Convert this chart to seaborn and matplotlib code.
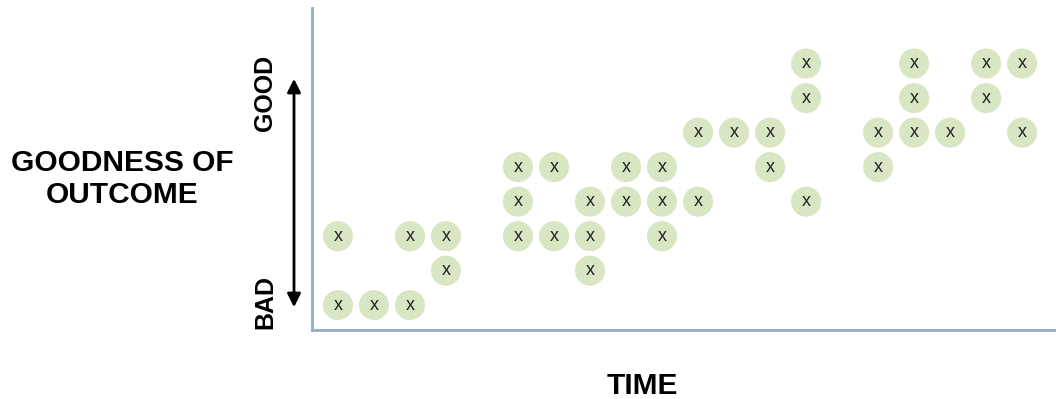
import pandas as pd
import matplotlib
matplotlib.use("Agg")
import matplotlib.pyplot as plt
import seaborn as sns

# time step (column) and goodness level (row) of each outcome
time_step = [0, 0, 1, 2, 2, 3, 3, 5, 5, 5, 6, 6, 7, 7, 7, 8, 8, 9, 9, 9,
             10, 10, 11, 12, 12, 13, 13, 13, 15, 15, 16, 16, 16, 17, 18, 18, 19, 19]
goodness = [0, 2, 0, 0, 2, 1, 2, 2, 3, 4, 2, 4, 1, 2, 3, 3, 4, 2, 3, 4,
            3, 5, 5, 4, 5, 3, 6, 7, 4, 5, 5, 6, 7, 5, 6, 7, 5, 7]
marker_label = "x"

df = pd.DataFrame({"time": time_step, "goodness": goodness})

sns.set_style("white")
plt.rcParams["font.family"] = ["Liberation Sans", "DejaVu Sans"]
plt.rcParams["text.color"] = "black"

fig = plt.figure(figsize=(10.56, 3.99), dpi=100)
ax = fig.add_axes([312 / 1056, 69 / 399, 744 / 1056, 322 / 399])

sns.scatterplot(data=df, x="time", y="goodness", s=470, color="#d9e6c3",
                edgecolor="none", ax=ax, legend=False, zorder=2)
for t, g in zip(df["time"], df["goodness"]):
    ax.text(t, g, marker_label, ha="center", va="center", fontsize=13,
            color="#222222", zorder=3)

ax.set_xlim(-0.72, 19.94)
ax.set_ylim(-0.72, 8.61)
ax.set_xticks([])
ax.set_yticks([])
ax.set_xlabel("")
ax.set_ylabel("")
for side in ["top", "right"]:
    ax.spines[side].set_visible(False)
for side in ["left", "bottom"]:
    ax.spines[side].set_color("#93abcd")
    ax.spines[side].set_linewidth(2)

# double-headed arrow and the GOOD / BAD labels
fig.patches.append(matplotlib.patches.FancyArrowPatch(
    (294 / 1056, 1 - 76 / 399), (294 / 1056, 1 - 310 / 399),
    transform=fig.transFigure, arrowstyle="<|-|>", mutation_scale=20,
    color="black", linewidth=2))
fig.text(265 / 1056, 1 - 93 / 399, "GOOD", rotation=90, ha="center",
         va="center", fontsize=18, fontweight="bold", color="black")
fig.text(265 / 1056, 1 - 302 / 399, "BAD", rotation=90, ha="center",
         va="center", fontsize=18, fontweight="bold", color="black")

fig.text(122 / 1056, 1 - 179 / 399, "GOODNESS OF\nOUTCOME", ha="center",
         va="center", fontsize=21.5, fontweight="bold", linespacing=1.2,
         color="black")
fig.text(642 / 1056, 1 - 386 / 399, "TIME", ha="center", va="center",
         fontsize=21.5, fontweight="bold", color="black")

fig.savefig("out.png", dpi=100)
